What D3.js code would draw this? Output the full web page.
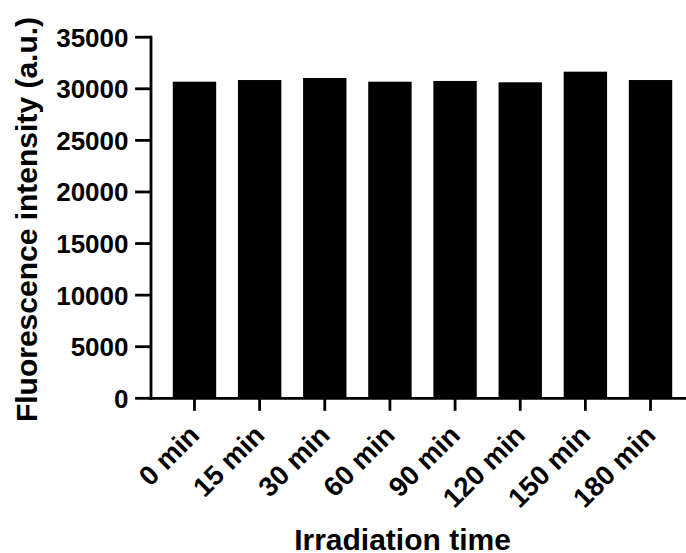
<!DOCTYPE html>
<html lang="en">
<head>
    <meta charset="UTF-8">
    <title>irradiation bars</title>
    <script src="https://d3js.org/d3.v7.min.js"></script>
    <style>
        body{
            margin: 0;
            background: #ffffff;
        }
        text{
            font-family: "Liberation Sans", Arial, sans-serif;
            font-weight: bold;
            fill: #000000;
        }
        .bar{
            fill: #000000;
        }
    </style>
</head>
<body>
<svg width="686" height="553" id="chart"></svg>
<script>
    let categories = ["0 min", "15 min", "30 min", "60 min", "90 min", "120 min", "150 min", "180 min"]
    let intensity = [30640, 30800, 31000, 30640, 30710, 30580, 31610, 30800]
    let y_ticks = [0, 5000, 10000, 15000, 20000, 25000, 30000, 35000]
    let x_title = "Irradiation time"
    let y_title = "Fluorescence intensity (a.u.)"

    let svg = d3.select("#chart")

    let x = d3.scaleBand()
        .domain(categories)
        .range([150.5, 694.5])
        .paddingInner(0.334)
        .paddingOuter(0.342)

    let y = d3.scaleLinear()
        .domain([0, 35000])
        .range([397.8, 36.7])

    // bars
    svg.append("g")
        .selectAll("rect")
        .data(intensity)
        .join("rect")
        .attr("class", "bar")
        .attr("x", function (d, i) { return x(categories[i]) })
        .attr("width", x.bandwidth())
        .attr("y", function (d) { return y(d) })
        .attr("height", function (d) { return y(0) - y(d) })

    // y axis
    let y_axis = svg.append("g")
        .attr("transform", "translate(150.5,0)")
        .call(d3.axisLeft(y).tickValues(y_ticks).tickFormat(d3.format("d"))
            .tickSize(14).tickSizeOuter(0).tickPadding(8))
    y_axis.selectAll("text")
        .style("font-size", "26px")
        .attr("dy", "0.36em")
    y_axis.selectAll("line, path")
        .attr("stroke", "#000")
        .attr("stroke-width", 2.8)
        .attr("stroke-linecap", "square")

    // x axis
    let x_axis = svg.append("g")
        .attr("transform", "translate(0,397.8)")
        .call(d3.axisBottom(x).tickSize(13).tickSizeOuter(0))
    x_axis.selectAll("line, path")
        .attr("stroke", "#000")
        .attr("stroke-width", 2.8)
    x_axis.select("path").attr("stroke-linecap", "square")
    x_axis.selectAll("text")
        .style("font-size", "27.5px")
        .attr("text-anchor", "end")
        .attr("dy", null)
        .attr("y", null)
        .attr("transform", "translate(6.5,39) rotate(-45)")

    // titles
    svg.append("text")
        .attr("transform", "translate(36.5,219.5) rotate(-90)")
        .attr("text-anchor", "middle")
        .style("font-size", "30px")
        .text(y_title)

    svg.append("text")
        .attr("x", 402.5)
        .attr("y", 549.5)
        .attr("text-anchor", "middle")
        .style("font-size", "30px")
        .text(x_title)
</script>
</body>
</html>
